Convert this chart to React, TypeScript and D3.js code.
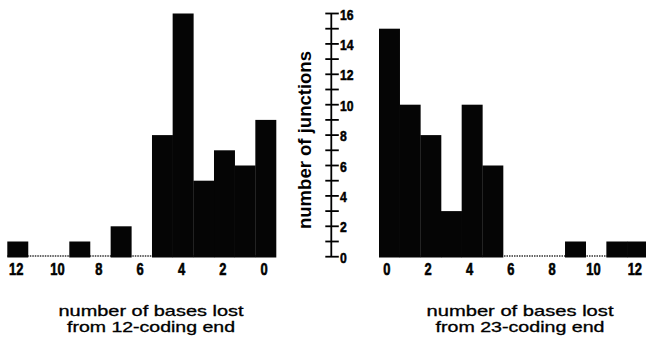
import React from "react";
import * as d3 from "d3";

// Left panel: number of bases lost from 12-coding end (bins 0..12)
const leftBins = [0, 1, 2, 3, 4, 5, 6, 7, 8, 9, 10, 11, 12];
const leftCounts = [9, 6, 7, 5, 16, 8, 0, 2, 0, 1, 0, 0, 1];
// Right panel: number of bases lost from 23-coding end (bins 0..12)
const rightBins = [0, 1, 2, 3, 4, 5, 6, 7, 8, 9, 10, 11, 12];
const rightCounts = [15, 10, 8, 3, 10, 6, 0, 0, 0, 1, 0, 1, 1];

const xTickValues = [0, 2, 4, 6, 8, 10, 12];
const yMajorTicks = [0, 2, 4, 6, 8, 10, 12, 14, 16];
const yAllTicks = d3.range(0, 17);

const yLabel = "number of junctions";
const leftTitle = ["number of bases lost", "from 12-coding end"];
const rightTitle = ["number of bases lost", "from 23-coding end"];

const W = 646;
const H = 346;
const FONT = "'Liberation Sans', Arial, Helvetica, sans-serif";

export default function App() {
  const y = d3.scaleLinear().domain([0, 16]).range([256.7, 13.5]);
  const barBottom = 257.5;
  const xL = d3.scaleLinear().domain([12.5, -0.5]).range([7.3, 276]);
  const xR = d3.scaleLinear().domain([-0.5, 12.5]).range([379, 647.7]);
  const axisX = 331.3;

  const bars = (
    bins: number[],
    counts: number[],
    x: d3.ScaleLinear<number, number>,
    key: string
  ) =>
    bins.map((b, i) => {
      const a = x(b - 0.5);
      const c = x(b + 0.5);
      const x0 = Math.min(a, c);
      const w = Math.abs(c - a);
      if (counts[i] === 0) return null;
      return (
        <rect
          key={key + b}
          x={x0}
          y={y(counts[i])}
          width={w + 0.3}
          height={barBottom - y(counts[i])}
          fill="#050505"
        />
      );
    });

  const xLabels = (x: d3.ScaleLinear<number, number>, key: string, dx: number) =>
    xTickValues.map((v) => (
      <text
        key={key + v}
        transform={`translate(${x(v) + dx},275) scale(0.76,1)`}
        textAnchor="middle"
        fontFamily={FONT}
        fontWeight="bold"
        fontSize={17}
        fill="#000"
        stroke="#000"
        strokeWidth={0.6}
      >
        {v}
      </text>
    ));

  return (
    <svg
      width={W}
      height={H}
      style={{ position: "absolute", left: 0, top: 0, background: "#fff" }}
    >
      <rect width={W} height={H} fill="#fff" />
      {/* baselines for empty bins */}
      <line
        x1={xL(12.5)}
        x2={xL(-0.5)}
        y1={256}
        y2={256}
        stroke="#333"
        strokeWidth={1.3}
        strokeDasharray="1.5,1"
      />
      <line
        x1={xR(-0.5)}
        x2={xR(12.5)}
        y1={256}
        y2={256}
        stroke="#333"
        strokeWidth={1.3}
        strokeDasharray="1.5,1"
      />
      {bars(leftBins, leftCounts, xL, "l")}
      {bars(rightBins, rightCounts, xR, "r")}
      {xLabels(xL, "xl", -1.5)}
      {xLabels(xR, "xr", -2.5)}

      {/* y axis */}
      <line x1={axisX} x2={axisX} y1={y(16)} y2={y(0)} stroke="#000" strokeWidth={1.8} />
      {yAllTicks.map((t) => (
        <line
          key={"t" + t}
          x1={axisX - 6}
          x2={axisX + 7.5}
          y1={y(t)}
          y2={y(t)}
          stroke="#000"
          strokeWidth={1.8}
        />
      ))}
      {yMajorTicks.map((t) => (
        <text
          key={"yl" + t}
          transform={`translate(340,${y(t) + 6}) scale(0.84,1)`}
          fontFamily={FONT}
          fontWeight="bold"
          fontSize={14.5}
          fill="#000"
          stroke="#000"
          strokeWidth={0.5}
        >
          {t}
        </text>
      ))}
      <text
        transform={`translate(311,140) rotate(-90)`}
        textAnchor="middle"
        fontFamily={FONT}
        fontWeight="bold"
        fontSize={17.5}
        textLength={178}
        lengthAdjust="spacingAndGlyphs"
        fill="#000"
      >
        {yLabel}
      </text>

      {/* titles */}
      {[
        { lines: leftTitle, cx: 151, widths: [185, 168] },
        { lines: rightTitle, cx: 520, widths: [187, 169] },
      ].map((g, gi) =>
        g.lines.map((s, li) => (
          <text
            key={"ti" + gi + li}
            x={g.cx - g.widths[li] / 2}
            y={315.5 + li * 16.5}
            fontFamily={FONT}
            fontSize={14.2}
            textLength={g.widths[li]}
            lengthAdjust="spacingAndGlyphs"
            fill="#000"
            stroke="#000"
            strokeWidth={0.3}
          >
            {s}
          </text>
        ))
      )}
    </svg>
  );
}
